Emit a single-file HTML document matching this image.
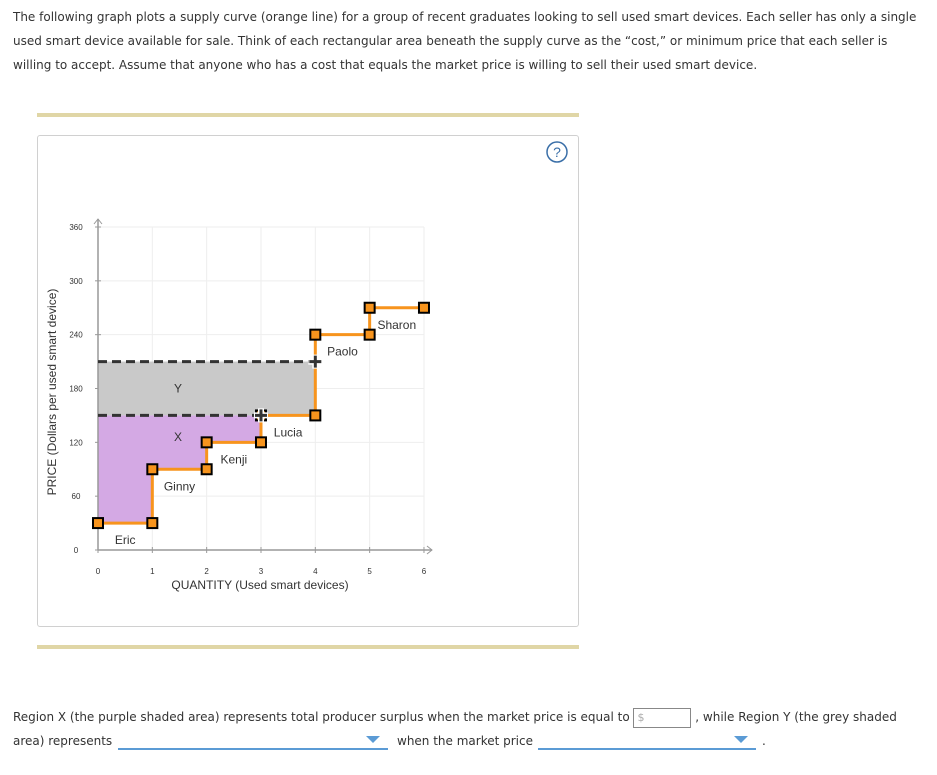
<!DOCTYPE html>
<html><head><meta charset="utf-8"><style>
body{margin:0;width:937px;height:775px;background:#fff;font-family:"Liberation Sans",sans-serif;color:#333;position:relative;overflow:hidden}
.intro{position:absolute;left:13px;top:5px;width:915px;font-family:"DejaVu Sans",sans-serif;font-size:12px;line-height:24px}
.bar{position:absolute;left:37px;width:542px;height:4px;background:#e0d6a6}
.panel{position:absolute;left:37px;top:135px;width:540px;height:490px;border:1px solid #d0d0d0;border-radius:3px}
.q{position:absolute;font-family:"DejaVu Sans",sans-serif;font-size:12px;line-height:24px}
.input{display:inline-block;width:58px;height:20px;border:1px solid #888;vertical-align:middle;font-size:11px;color:#aaa;line-height:18px;padding-left:3px;box-sizing:border-box}
.dd{position:absolute;height:20px;border-bottom:2px solid #5b9bd5}
.dd:after{content:"";position:absolute;right:8px;top:8px;border-left:7px solid transparent;border-right:7px solid transparent;border-top:7px solid #5b9bd5}
</style></head><body>
<div class="intro">The following graph plots a supply curve (orange line) for a group of recent graduates looking to sell used smart devices. Each seller has only a single used smart device available for sale. Think of each rectangular area beneath the supply curve as the “cost,” or minimum price that each seller is willing to accept. Assume that anyone who has a cost that equals the market price is willing to sell their used smart device.</div>
<div class="bar" style="top:113px"></div>
<div class="bar" style="top:645px"></div>
<div class="panel"></div>
<svg id="chart" width="937" height="775" style="position:absolute;left:0;top:0" font-family="Liberation Sans, sans-serif"></svg>
<div class="q" style="left:13px;top:705px;width:915px">Region X (the purple shaded area) represents total producer surplus when the market price is equal to <span class="input">$</span> , while Region Y (the grey shaded<br>area) represents</div>
<div class="dd" style="left:118px;top:728px;width:270px"></div>
<div class="q" style="left:397px;top:729px">when the market price</div>
<div class="dd" style="left:538px;top:728px;width:218px"></div>
<div class="q" style="left:762px;top:729px">.</div>
<script>
const xTicks=[0,1,2,3,4,5,6];
const yTicks=[0,60,120,180,240,300,360];
const sellers=["Eric","Ginny","Kenji","Lucia","Paolo","Sharon"];
const costs=[30,90,120,150,240,270];
const priceLow=150;
const priceHigh=210;
const qAtHigh=4;
const NS="http://www.w3.org/2000/svg";
const svg=document.getElementById('chart');
const X=v=>98+v*54.33;
const Y=v=>550-v*323/360;
function mk(t,a,p){const e=document.createElementNS(NS,t);for(const k in a)e.setAttribute(k,a[k]);(p||svg).appendChild(e);return e;}
xTicks.forEach(t=>{if(t>0){const g=mk('line',{x1:X(t),x2:X(t),y1:Y(360),y2:Y(0),stroke:'#eee'});

}
const l=mk('text',{x:X(t),y:Y(0)+24,'font-size':8,'text-anchor':'middle',fill:'#333'});l.textContent=t;


mk('line',{x1:X(t),x2:X(t),y1:Y(0)-3,y2:Y(0)+3,stroke:'#999'});});
yTicks.forEach(t=>{if(t>0){const g=mk('line',{x1:X(0),x2:X(6),y1:Y(t),y2:Y(t),stroke:'#eee'});

}
const l=mk('text',{x:76,y:Y(t)+3,'font-size':8,'text-anchor':'middle',fill:'#333'});l.textContent=t;


mk('line',{x1:X(0)-3,x2:X(0)+3,y1:Y(t),y2:Y(t),stroke:'#999'});});
let d=`M${X(0)},${Y(priceLow)}`;
costs.forEach((c,i)=>{if(c<priceLow){d+=` L${X(i)},${Y(c)} L${X(i+1)},${Y(c)}`;}});
let nLow=costs.filter(c=>c<priceLow).length;
d+=` L${X(nLow)},${Y(priceLow)} Z`;
const px=mk('path',{d:d,fill:'#d4a9e4'});


const py=mk('rect',{x:X(0),y:Y(priceHigh),width:X(qAtHigh)-X(0),height:Y(priceLow)-Y(priceHigh),fill:'#c9c9c9'});


mk('line',{x1:X(0),x2:X(0),y1:Y(0),y2:Y(360)-8,stroke:'#999','stroke-width':1.5});
mk('line',{x1:X(0),x2:X(6)+8,y1:Y(0),y2:Y(0),stroke:'#999','stroke-width':1.5});
mk('path',{d:`M${X(0)-4},${Y(360)-3} L${X(0)},${Y(360)-8} L${X(0)+4},${Y(360)-3}`,fill:'none',stroke:'#999'});
mk('path',{d:`M${X(6)+3},${Y(0)-4} L${X(6)+8},${Y(0)} L${X(6)+3},${Y(0)+4}`,fill:'none',stroke:'#999'});
[priceLow,priceHigh].forEach((p,i)=>{const l=mk('line',{x1:X(0),x2:X(i?4:3),y1:Y(p),y2:Y(p),stroke:'#333','stroke-width':3,'stroke-dasharray':'9,5'});

});
let sd='';costs.forEach((c,i)=>{sd+=(i?` L${X(i)},${Y(c)}`:`M${X(i)},${Y(c)}`)+` L${X(i+1)},${Y(c)}`;});
const sc=mk('path',{d:sd,fill:'none',stroke:'#f7941d','stroke-width':3});


costs.forEach((c,i)=>{[i,i+1].forEach(q=>{const r=mk('rect',{x:X(q)-5,y:Y(c)-5,width:10,height:10,fill:'#f7941d',stroke:'#000','stroke-width':2});

});
const t=mk('text',{x:X(i+0.5),y:Y(c)+21,'font-size':12,'text-anchor':'middle',fill:'#333'});t.textContent=sellers[i];

});
[[3,priceLow],[4,priceHigh]].forEach(([q,p])=>{mk('path',{d:`M${X(q)-7},${Y(p)} h14 M${X(q)},${Y(p)-7} v14`,stroke:'#fff','stroke-width':6});
const c=mk('path',{d:`M${X(q)-6},${Y(p)} h12 M${X(q)},${Y(p)-6} v12`,stroke:'#333','stroke-width':3});

});
[['X',Y(126)],['Y',Y(180)]].forEach(([s,y])=>{const t=mk('text',{x:178,y:y+4,'font-size':12,'text-anchor':'middle',fill:'#333'});t.textContent=s;

});
const xt=mk('text',{x:260,y:589,'font-size':12,'text-anchor':'middle',fill:'#333'});xt.textContent='QUANTITY (Used smart devices)';


const yt=mk('text',{x:0,y:0,'font-size':12,'text-anchor':'middle',fill:'#333',transform:'translate(56,392) rotate(-90)'});yt.textContent='PRICE (Dollars per used smart device)';


const hc=mk('circle',{cx:557,cy:152,r:10,fill:'#fff',stroke:'#3a6fa8','stroke-width':1.5});


const ht=mk('text',{x:557,y:157,'font-size':14,'text-anchor':'middle',fill:'#3a6fa8'});ht.textContent='?';


</script>
</body></html>
